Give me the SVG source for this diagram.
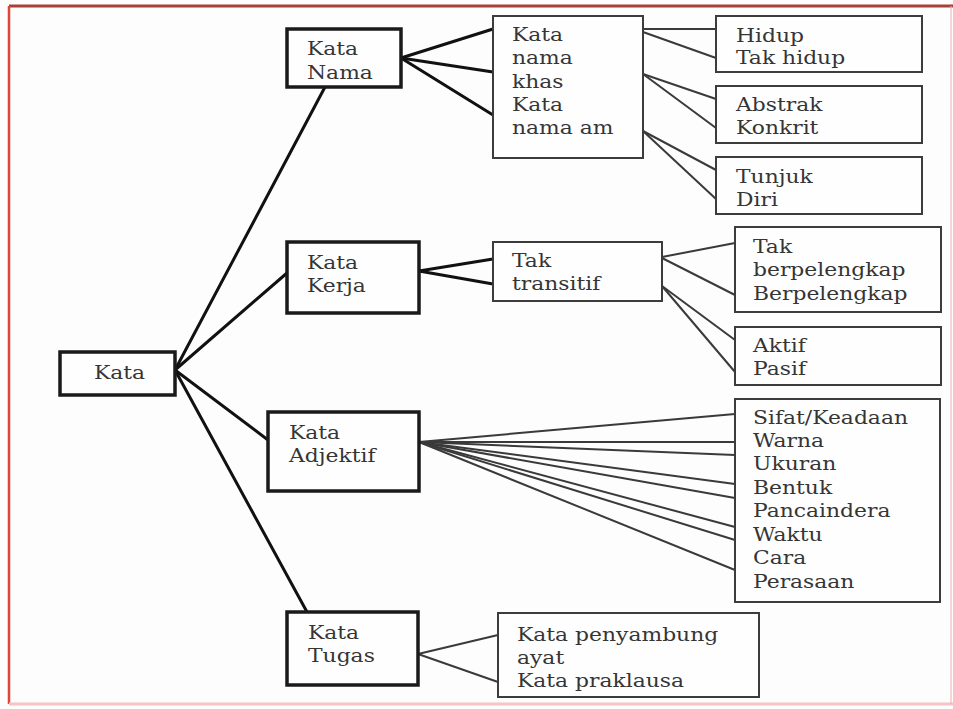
<svg xmlns="http://www.w3.org/2000/svg" width="953" height="709" viewBox="0 0 953 709">
<style>
.bg{fill:#fdfdfd}
.b1{fill:#fefefe;stroke:#1a1a1a;stroke-width:3.5}
.b2{fill:#fefefe;stroke:#3c3c3c;stroke-width:2}
.t{font-family:"DejaVu Serif","Liberation Serif",serif;font-size:19px;fill:#353535}
.c1{stroke:#111;stroke-width:3;fill:none;stroke-linecap:round}
.c2{stroke:#3a3a3a;stroke-width:2;fill:none}
</style>
<rect class="bg" x="0" y="0" width="953" height="709"/>
<g id="frame">
<line x1="9" y1="6" x2="953" y2="6" stroke="#a8403a" stroke-width="3"/>
<line x1="9" y1="6" x2="9" y2="704" stroke="#e0453c" stroke-width="2.5"/>
<line x1="9" y1="704" x2="953" y2="704" stroke="#f6c4c4" stroke-width="3"/>
<line x1="951" y1="6" x2="951" y2="704" stroke="#e8b0b0" stroke-width="1"/>
</g>
<g id="connectors">
<line class="c1" x1="175" y1="370" x2="325" y2="87"/>
<line class="c1" x1="175" y1="370" x2="287" y2="273"/>
<line class="c1" x1="175" y1="370" x2="268" y2="440"/>
<line class="c1" x1="175" y1="370" x2="307" y2="612"/>
<line class="c1" x1="401" y1="58" x2="493" y2="29"/>
<line class="c1" x1="401" y1="58" x2="493" y2="72"/>
<line class="c1" x1="401" y1="58" x2="493" y2="115"/>
<line class="c1" x1="419" y1="271" x2="493" y2="259"/>
<line class="c1" x1="419" y1="271" x2="493" y2="284"/>
<line class="c2" x1="643" y1="29" x2="716" y2="29"/>
<line class="c2" x1="643" y1="32" x2="716" y2="58"/>
<line class="c2" x1="643" y1="74" x2="716" y2="99"/>
<line class="c2" x1="643" y1="74" x2="716" y2="128"/>
<line class="c2" x1="643" y1="131" x2="716" y2="170"/>
<line class="c2" x1="643" y1="131" x2="716" y2="199"/>
<line class="c2" x1="662" y1="257" x2="735" y2="243"/>
<line class="c2" x1="662" y1="258" x2="735" y2="295"/>
<line class="c2" x1="662" y1="286" x2="735" y2="340"/>
<line class="c2" x1="662" y1="286" x2="735" y2="372"/>
<line class="c2" x1="419" y1="442" x2="735" y2="414"/>
<line class="c2" x1="419" y1="442" x2="735" y2="442"/>
<line class="c2" x1="419" y1="442" x2="735" y2="455"/>
<line class="c2" x1="419" y1="442" x2="735" y2="484"/>
<line class="c2" x1="419" y1="442" x2="735" y2="498"/>
<line class="c2" x1="419" y1="442" x2="735" y2="527"/>
<line class="c2" x1="419" y1="442" x2="735" y2="540"/>
<line class="c2" x1="419" y1="442" x2="735" y2="570"/>
<line class="c2" x1="418" y1="654" x2="498" y2="635"/>
<line class="c2" x1="418" y1="654" x2="498" y2="682"/>
</g>
<g id="kata">
<rect class="b1" x="60" y="352" width="115" height="43" stroke-width="4"/>
<text class="t" transform="translate(94,379) scale(1.15,1)">Kata</text>
</g>
<g id="kata-nama">
<rect class="b1" x="287" y="29" width="114" height="58"/>
<text class="t" transform="translate(307,55) scale(1.15,1)"><tspan x="0" y="0">Kata</tspan><tspan x="0" y="24">Nama</tspan></text>
</g>
<g id="kata-kerja">
<rect class="b1" x="287" y="242" width="132" height="71"/>
<text class="t" transform="translate(307,269) scale(1.15,1)"><tspan x="0" y="0">Kata</tspan><tspan x="0" y="23">Kerja</tspan></text>
</g>
<g id="kata-adjektif">
<rect class="b1" x="268" y="412" width="151" height="79"/>
<text class="t" transform="translate(289,439) scale(1.15,1)"><tspan x="0" y="0">Kata</tspan><tspan x="0" y="23">Adjektif</tspan></text>
</g>
<g id="kata-tugas">
<rect class="b1" x="287" y="612" width="131" height="73"/>
<text class="t" transform="translate(308,639) scale(1.15,1)"><tspan x="0" y="0">Kata</tspan><tspan x="0" y="23">Tugas</tspan></text>
</g>
<g id="kata-nama-khas">
<rect class="b2" x="493" y="16" width="150" height="142"/>
<text class="t" transform="translate(512,41) scale(1.15,1)"><tspan x="0" y="0">Kata</tspan><tspan x="0" y="23.3">nama</tspan><tspan x="0" y="46.6">khas</tspan><tspan x="0" y="70">Kata</tspan><tspan x="0" y="93.3">nama am</tspan></text>
</g>
<g id="hidup">
<rect class="b2" x="716" y="16" width="206" height="56"/>
<text class="t" transform="translate(736,41.5) scale(1.15,1)"><tspan x="0" y="0">Hidup</tspan><tspan x="0" y="23">Tak hidup</tspan></text>
</g>
<g id="abstrak">
<rect class="b2" x="716" y="86" width="206" height="57"/>
<text class="t" transform="translate(736,111) scale(1.15,1)"><tspan x="0" y="0">Abstrak</tspan><tspan x="0" y="23.5">Konkrit</tspan></text>
</g>
<g id="tunjuk">
<rect class="b2" x="716" y="157" width="206" height="57"/>
<text class="t" transform="translate(736,183) scale(1.15,1)"><tspan x="0" y="0">Tunjuk</tspan><tspan x="0" y="23">Diri</tspan></text>
</g>
<g id="tak-transitif">
<rect class="b2" x="493" y="242" width="169" height="59"/>
<text class="t" transform="translate(512,267) scale(1.15,1)"><tspan x="0" y="0">Tak</tspan><tspan x="0" y="23">transitif</tspan></text>
</g>
<g id="berpelengkap">
<rect class="b2" x="735" y="227" width="206" height="85"/>
<text class="t" transform="translate(753,252.5) scale(1.15,1)"><tspan x="0" y="0">Tak</tspan><tspan x="0" y="24">berpelengkap</tspan><tspan x="0" y="47.5">Berpelengkap</tspan></text>
</g>
<g id="aktif">
<rect class="b2" x="735" y="327" width="206" height="58"/>
<text class="t" transform="translate(753,352) scale(1.15,1)"><tspan x="0" y="0">Aktif</tspan><tspan x="0" y="23">Pasif</tspan></text>
</g>
<g id="sifat">
<rect class="b2" x="735" y="399" width="205" height="203"/>
<text class="t" transform="translate(753,423.5) scale(1.15,1)"><tspan x="0" y="0">Sifat/Keadaan</tspan><tspan x="0" y="23.5">Warna</tspan><tspan x="0" y="47">Ukuran</tspan><tspan x="0" y="70.5">Bentuk</tspan><tspan x="0" y="94">Pancaindera</tspan><tspan x="0" y="117.5">Waktu</tspan><tspan x="0" y="141">Cara</tspan><tspan x="0" y="164.5">Perasaan</tspan></text>
</g>
<g id="penyambung">
<rect class="b2" x="498" y="613" width="261" height="84"/>
<text class="t" transform="translate(517,641) scale(1.15,1)"><tspan x="0" y="0">Kata penyambung</tspan><tspan x="0" y="23">ayat</tspan><tspan x="0" y="46">Kata praklausa</tspan></text>
</g>
</svg>
